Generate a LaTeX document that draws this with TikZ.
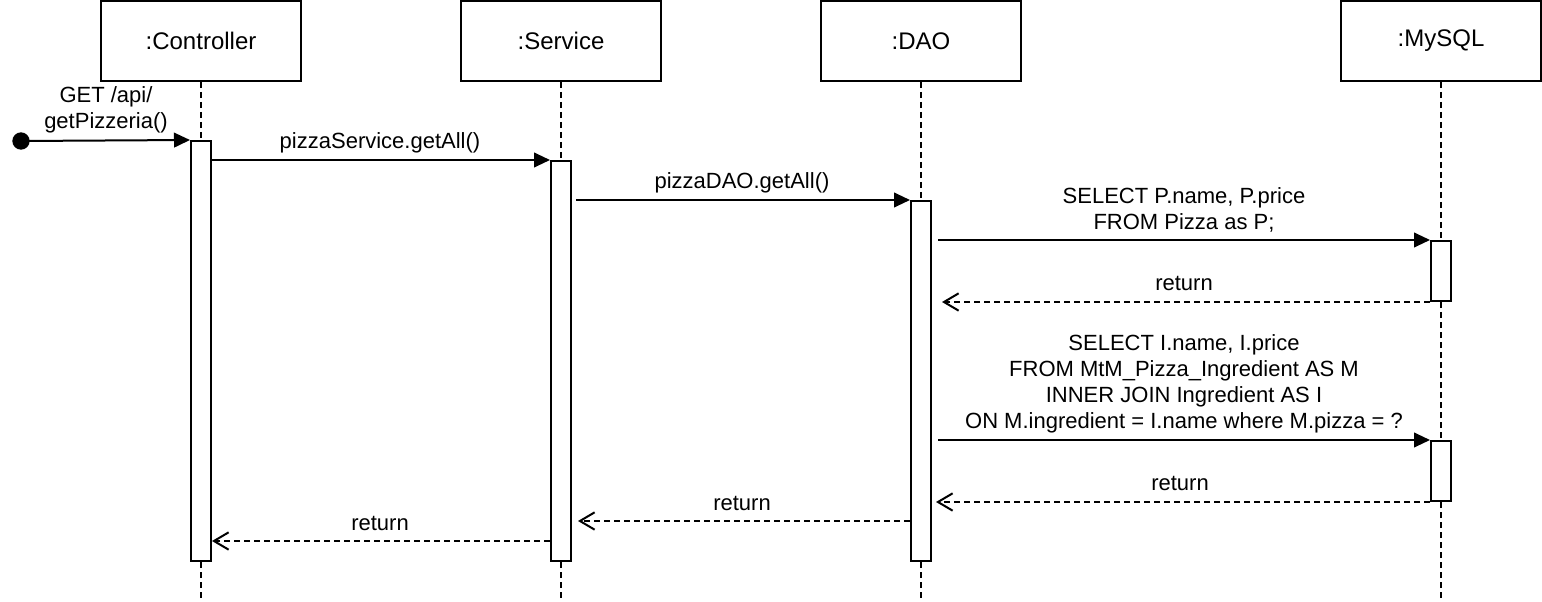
\documentclass[tikz,border=0pt]{standalone}
\usepackage{fontspec}
\setmainfont{Liberation Sans}
\usetikzlibrary{arrows.meta}
\begin{document}
\begin{tikzpicture}[x=0.75pt,y=-0.75pt, line width=1.5pt,
  font=\fontsize{16.5}{19.5}\selectfont,
  head/.style={draw, fill=white, minimum width=150pt, minimum height=60pt, inner sep=0pt, font=\fontsize{18}{21}\selectfont},
  act/.style={draw, fill=white, minimum width=15pt, inner sep=0pt},
  life/.style={dash pattern=on 4.5pt off 3pt},
  msg/.style={-{Triangle[length=12pt,width=11pt]}},
  ret/.style={dash pattern=on 4.5pt off 3pt, -{Straight Barb[length=11pt,width=13pt]}},
  lbl/.style={align=center, inner sep=0pt}]
\useasboundingbox (0,0) rectangle (1542,602);
% heads
\node[head] (hc) at (201,41) {:Controller};
\node[head] (hs) at (561,41) {:Service};
\node[head] (hd) at (921,41) {:DAO};
\node[head] (hm) at (1441,41) {:MySQL};
% lifeline ends
\coordinate (ec) at (201,602);
\coordinate (es) at (561,602);
\coordinate (ed) at (921,602);
\coordinate (em) at (1441,602);
\draw[life] (hc.south) -- (ec);
\draw[life] (hs.south) -- (es);
\draw[life] (hd.south) -- (ed);
\draw[life] (hm.south) -- (em);
% activations
\node[act, minimum height=315pt] (ac) at (201,351) {};
\node[act, minimum height=300pt] (as) at (561,361) {};
\node[act, minimum height=270pt] (ad) at (921,381) {};
\node[act, minimum height=45pt] (am1) at (1441,271) {};
\node[act, minimum height=45pt] (am2) at (1441,471) {};
% start
\node[circle, fill=black, minimum size=13pt, inner sep=0pt] (st) at (21,141) {};
\draw[msg] (st.center) -- (ac.north west);
\node[lbl] (l1) at (106,110) {GET /api/\\getPizzeria()};
% service call
\draw[msg] (ac.east |- as.north) -- (as.north west);
\node[lbl] (l2) at (380,143) {pizzaService.getAll()};
% dao call
\draw[msg] ([xshift=3pt]as.east |- ad.north) -- (ad.north west);
\node[lbl] (l3) at (742,183) {pizzaDAO.getAll()};
% select pizza
\draw[msg] ([xshift=4.5pt]ad.east |- am1.north) -- (am1.north west);
\node[lbl] (l4) at (1184,210) {SELECT P.name, P.price\\FROM Pizza as P;};
\draw[ret] (am1.south west) -- ([xshift=7.5pt]ad.east |- am1.south);
\node[lbl] (l5) at (1184,283) {return};
% select ingredients
\draw[msg] ([xshift=4.5pt]ad.east |- am2.north) -- (am2.north west);
\node[lbl] (l6) at (1184,384) {SELECT I.name, I.price\\FROM MtM\_Pizza\_Ingredient AS M\\INNER JOIN Ingredient AS I\\ON M.ingredient = I.name where M.pizza = ?};
\draw[ret] (am2.south west) -- ([xshift=3pt]ad.east |- am2.south);
\node[lbl] (l7) at (1180,483) {return};
% returns
\coordinate (r3) at (921,521);
\coordinate (r4) at (561,541);
\draw[ret] (ad.west |- r3) -- ([xshift=4.5pt]as.east |- r3);
\node[lbl] (l8) at (742,503) {return};
\draw[ret] (as.west |- r4) -- (ac.east |- r4);
\node[lbl] (l9) at (380,523) {return};
\end{tikzpicture}
\end{document}
